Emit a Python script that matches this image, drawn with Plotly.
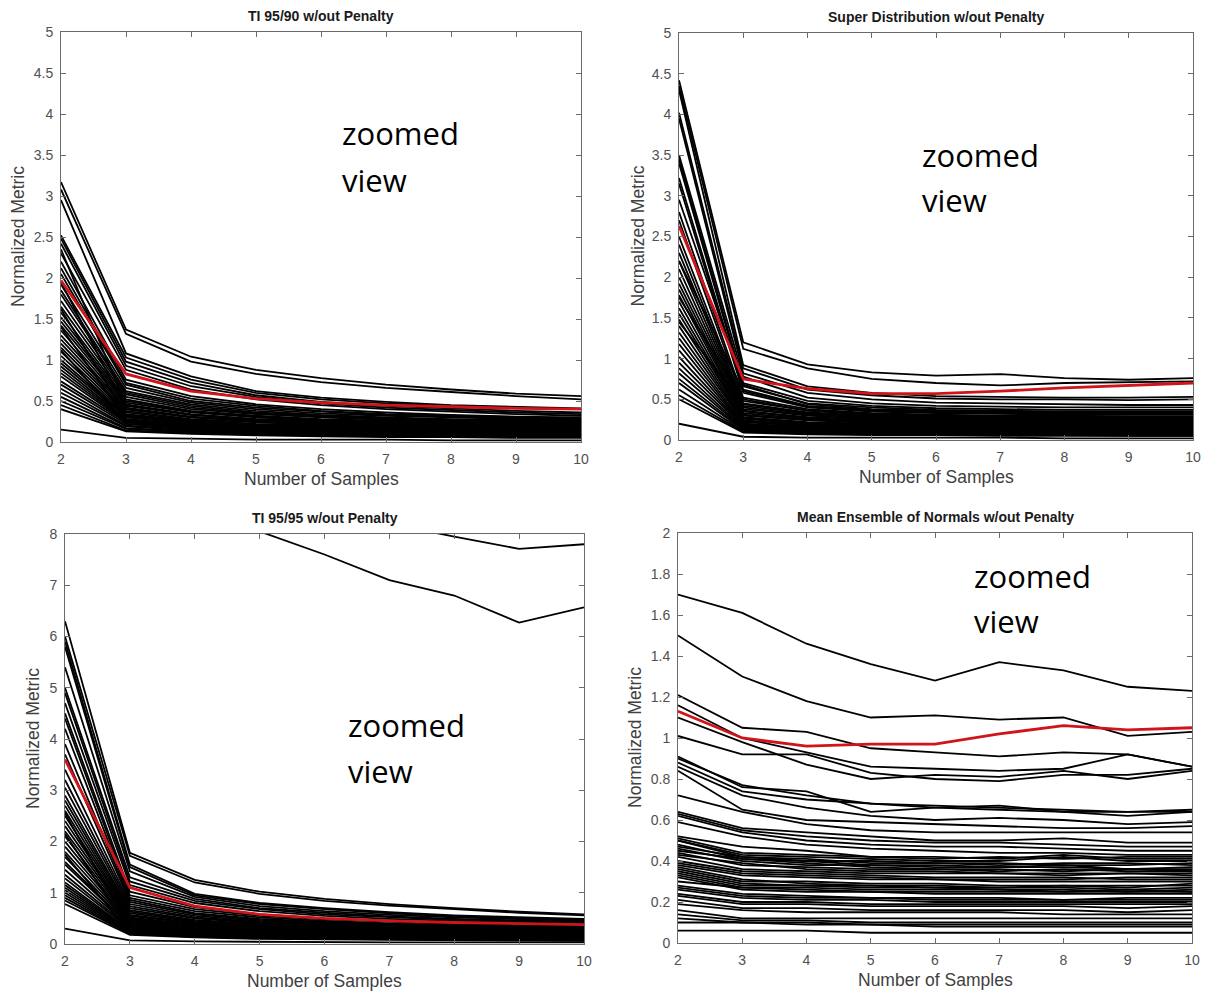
import plotly.graph_objects as go

# Sample counts on the x axis
SAMPLES = [2, 3, 4, 5, 6, 7, 8, 9, 10]

# ---- TI 95/90 w/out Penalty ----
TI9590_RED = [1.97, 0.83, 0.62, 0.53, 0.48, 0.45, 0.43, 0.41, 0.40]
TI9590_LINES = [
    [3.17, 1.37, 1.04, 0.88, 0.78, 0.70, 0.64, 0.59, 0.56],
    [3.08, 1.32, 0.98, 0.83, 0.73, 0.66, 0.61, 0.56, 0.52],
    [2.95, 1.08, 0.80, 0.62, 0.54, 0.49, 0.45, 0.43, 0.41],
    [2.52, 1.03, 0.76, 0.60, 0.52, 0.47, 0.44, 0.42, 0.40],
    [2.48, 0.98, 0.72, 0.57, 0.49, 0.44, 0.41, 0.38, 0.36],
    [2.42, 0.93, 0.68, 0.55, 0.47, 0.42, 0.39, 0.36, 0.34],
    [2.30, 0.88, 0.64, 0.52, 0.45, 0.40, 0.37, 0.34, 0.32],
    [2.20, 0.76, 0.56, 0.46, 0.40, 0.36, 0.33, 0.31, 0.30],
    [2.12, 0.72, 0.53, 0.44, 0.38, 0.34, 0.32, 0.30, 0.29],
    [2.05, 0.70, 0.50, 0.42, 0.37, 0.33, 0.31, 0.29, 0.28],
    [1.92, 0.66, 0.48, 0.40, 0.35, 0.32, 0.30, 0.28, 0.27],
    [1.85, 0.62, 0.46, 0.38, 0.33, 0.30, 0.28, 0.27, 0.26],
    [1.80, 0.60, 0.44, 0.36, 0.32, 0.29, 0.27, 0.26, 0.25],
    [1.72, 0.58, 0.42, 0.35, 0.31, 0.28, 0.26, 0.25, 0.24],
    [1.65, 0.55, 0.40, 0.34, 0.30, 0.27, 0.25, 0.24, 0.23],
    [1.58, 0.52, 0.38, 0.32, 0.28, 0.26, 0.24, 0.23, 0.22],
    [1.52, 0.50, 0.37, 0.31, 0.27, 0.25, 0.23, 0.22, 0.21],
    [1.47, 0.48, 0.36, 0.30, 0.26, 0.24, 0.22, 0.21, 0.20],
    [1.42, 0.46, 0.34, 0.28, 0.25, 0.23, 0.21, 0.20, 0.19],
    [1.36, 0.44, 0.33, 0.27, 0.24, 0.22, 0.20, 0.19, 0.18],
    [1.30, 0.42, 0.31, 0.26, 0.23, 0.21, 0.19, 0.18, 0.17],
    [1.25, 0.40, 0.30, 0.25, 0.22, 0.20, 0.18, 0.17, 0.16],
    [1.20, 0.38, 0.28, 0.24, 0.21, 0.19, 0.17, 0.16, 0.15],
    [1.15, 0.36, 0.27, 0.22, 0.20, 0.18, 0.16, 0.15, 0.14],
    [1.10, 0.34, 0.26, 0.21, 0.19, 0.17, 0.15, 0.14, 0.13],
    [1.05, 0.32, 0.24, 0.20, 0.18, 0.16, 0.15, 0.14, 0.13],
    [1.00, 0.31, 0.23, 0.19, 0.17, 0.15, 0.14, 0.13, 0.12],
    [0.96, 0.30, 0.22, 0.18, 0.16, 0.14, 0.13, 0.12, 0.11],
    [0.92, 0.28, 0.21, 0.17, 0.15, 0.14, 0.13, 0.12, 0.11],
    [0.88, 0.27, 0.20, 0.16, 0.14, 0.13, 0.12, 0.11, 0.10],
    [0.84, 0.26, 0.19, 0.16, 0.14, 0.12, 0.11, 0.10, 0.10],
    [0.80, 0.25, 0.18, 0.15, 0.13, 0.12, 0.11, 0.10, 0.09],
    [0.74, 0.24, 0.17, 0.14, 0.12, 0.11, 0.10, 0.09, 0.09],
    [0.70, 0.22, 0.16, 0.13, 0.12, 0.11, 0.10, 0.09, 0.08],
    [0.65, 0.20, 0.15, 0.12, 0.11, 0.10, 0.09, 0.08, 0.08],
    [0.60, 0.19, 0.14, 0.12, 0.10, 0.09, 0.08, 0.08, 0.07],
    [0.55, 0.17, 0.13, 0.11, 0.09, 0.08, 0.08, 0.07, 0.07],
    [0.50, 0.16, 0.12, 0.10, 0.09, 0.08, 0.07, 0.07, 0.06],
    [0.45, 0.14, 0.11, 0.09, 0.08, 0.07, 0.07, 0.06, 0.06],
    [0.40, 0.13, 0.10, 0.08, 0.07, 0.06, 0.06, 0.05, 0.05],
    [0.15, 0.05, 0.04, 0.03, 0.03, 0.03, 0.02, 0.02, 0.02],
    [2.35, 0.45, 0.33, 0.28, 0.25, 0.23, 0.22, 0.21, 0.20],
    [1.95, 0.40, 0.30, 0.26, 0.23, 0.21, 0.20, 0.19, 0.18],
    [1.62, 0.33, 0.25, 0.21, 0.19, 0.18, 0.17, 0.16, 0.15],
    [1.40, 0.28, 0.21, 0.18, 0.16, 0.15, 0.14, 0.13, 0.12],
    [1.12, 0.22, 0.17, 0.15, 0.13, 0.12, 0.11, 0.11, 0.10],
]

# ---- Super Distribution w/out Penalty ----
SUPER_RED = [2.63, 0.75, 0.63, 0.57, 0.57, 0.60, 0.64, 0.67, 0.70]
SUPER_LINES = [
    [4.42, 1.20, 0.93, 0.83, 0.79, 0.81, 0.76, 0.74, 0.76],
    [4.35, 1.12, 0.88, 0.75, 0.70, 0.67, 0.70, 0.71, 0.72],
    [4.30, 0.92, 0.66, 0.58, 0.54, 0.53, 0.52, 0.52, 0.53],
    [4.02, 0.88, 0.62, 0.55, 0.51, 0.50, 0.50, 0.49, 0.50],
    [3.95, 0.82, 0.58, 0.50, 0.46, 0.45, 0.44, 0.43, 0.43],
    [3.50, 0.78, 0.52, 0.45, 0.42, 0.41, 0.40, 0.40, 0.40],
    [3.45, 0.70, 0.48, 0.42, 0.39, 0.38, 0.37, 0.37, 0.37],
    [3.40, 0.66, 0.45, 0.40, 0.37, 0.36, 0.35, 0.35, 0.35],
    [3.22, 0.62, 0.42, 0.37, 0.35, 0.34, 0.33, 0.33, 0.33],
    [3.15, 0.58, 0.40, 0.35, 0.33, 0.32, 0.31, 0.31, 0.31],
    [2.80, 0.52, 0.38, 0.33, 0.31, 0.30, 0.30, 0.29, 0.29],
    [2.70, 0.48, 0.36, 0.31, 0.29, 0.28, 0.28, 0.28, 0.27],
    [2.50, 0.45, 0.34, 0.30, 0.28, 0.27, 0.27, 0.26, 0.26],
    [2.40, 0.42, 0.32, 0.28, 0.27, 0.26, 0.26, 0.25, 0.25],
    [2.30, 0.40, 0.31, 0.27, 0.26, 0.25, 0.25, 0.24, 0.24],
    [2.20, 0.38, 0.30, 0.26, 0.25, 0.24, 0.24, 0.23, 0.23],
    [2.10, 0.36, 0.28, 0.25, 0.24, 0.23, 0.23, 0.22, 0.22],
    [2.00, 0.35, 0.27, 0.24, 0.23, 0.22, 0.22, 0.21, 0.21],
    [1.92, 0.33, 0.26, 0.23, 0.22, 0.21, 0.21, 0.20, 0.20],
    [1.85, 0.31, 0.25, 0.22, 0.21, 0.20, 0.20, 0.19, 0.19],
    [1.78, 0.30, 0.24, 0.21, 0.20, 0.19, 0.19, 0.18, 0.18],
    [1.70, 0.28, 0.22, 0.20, 0.19, 0.18, 0.18, 0.17, 0.17],
    [1.62, 0.27, 0.21, 0.19, 0.18, 0.17, 0.17, 0.16, 0.16],
    [1.55, 0.26, 0.20, 0.18, 0.17, 0.16, 0.16, 0.15, 0.15],
    [1.48, 0.24, 0.19, 0.17, 0.16, 0.15, 0.15, 0.14, 0.14],
    [1.40, 0.23, 0.18, 0.16, 0.15, 0.14, 0.14, 0.14, 0.13],
    [1.32, 0.22, 0.17, 0.15, 0.14, 0.13, 0.13, 0.13, 0.12],
    [1.25, 0.20, 0.16, 0.14, 0.13, 0.12, 0.12, 0.12, 0.12],
    [1.18, 0.19, 0.15, 0.13, 0.12, 0.12, 0.11, 0.11, 0.11],
    [1.10, 0.18, 0.14, 0.12, 0.11, 0.11, 0.10, 0.10, 0.10],
    [1.02, 0.17, 0.13, 0.11, 0.10, 0.10, 0.10, 0.09, 0.09],
    [0.95, 0.16, 0.12, 0.10, 0.10, 0.09, 0.09, 0.09, 0.08],
    [0.88, 0.15, 0.11, 0.10, 0.09, 0.09, 0.08, 0.08, 0.08],
    [0.82, 0.14, 0.10, 0.09, 0.08, 0.08, 0.08, 0.07, 0.07],
    [0.75, 0.13, 0.10, 0.08, 0.08, 0.07, 0.07, 0.07, 0.07],
    [0.70, 0.12, 0.09, 0.08, 0.07, 0.07, 0.07, 0.06, 0.06],
    [0.62, 0.11, 0.08, 0.07, 0.07, 0.06, 0.06, 0.06, 0.06],
    [0.55, 0.10, 0.08, 0.07, 0.06, 0.06, 0.06, 0.05, 0.05],
    [0.50, 0.09, 0.07, 0.06, 0.06, 0.05, 0.05, 0.05, 0.05],
    [0.20, 0.04, 0.03, 0.03, 0.03, 0.03, 0.02, 0.02, 0.02],
    [2.95, 0.68, 0.44, 0.38, 0.36, 0.35, 0.34, 0.34, 0.34],
    [2.20, 0.60, 0.41, 0.36, 0.34, 0.33, 0.33, 0.32, 0.32],
    [1.75, 0.50, 0.36, 0.32, 0.30, 0.29, 0.29, 0.28, 0.28],
    [1.45, 0.44, 0.33, 0.29, 0.27, 0.26, 0.26, 0.26, 0.26],
]

# ---- TI 95/95 w/out Penalty ----
TI9595_RED = [3.60, 1.10, 0.74, 0.58, 0.50, 0.45, 0.42, 0.40, 0.38]
TI9595_LINES = [
    [30.0, 14.0, 11.0, 9.60, 8.80, 8.20, 7.95, 7.71, 7.80],
    [40.0, 13.0, 9.50, 8.05, 7.60, 7.10, 6.80, 6.27, 6.57],
    [6.30, 1.78, 1.25, 1.02, 0.88, 0.78, 0.70, 0.63, 0.58],
    [6.00, 1.72, 1.20, 0.98, 0.84, 0.75, 0.68, 0.61, 0.56],
    [5.90, 1.55, 0.98, 0.80, 0.70, 0.62, 0.56, 0.52, 0.49],
    [5.80, 1.50, 0.95, 0.78, 0.68, 0.60, 0.54, 0.50, 0.47],
    [5.40, 1.42, 0.92, 0.74, 0.64, 0.57, 0.52, 0.48, 0.45],
    [5.00, 1.30, 0.88, 0.70, 0.61, 0.54, 0.49, 0.46, 0.43],
    [4.90, 1.22, 0.84, 0.68, 0.58, 0.52, 0.47, 0.44, 0.41],
    [4.70, 1.15, 0.80, 0.64, 0.55, 0.49, 0.45, 0.42, 0.39],
    [4.50, 1.02, 0.72, 0.58, 0.50, 0.45, 0.41, 0.38, 0.36],
    [4.40, 0.95, 0.68, 0.55, 0.48, 0.43, 0.39, 0.36, 0.34],
    [4.20, 0.90, 0.64, 0.52, 0.45, 0.40, 0.37, 0.34, 0.32],
    [3.90, 0.86, 0.60, 0.49, 0.43, 0.38, 0.35, 0.33, 0.31],
    [3.70, 0.82, 0.58, 0.47, 0.41, 0.37, 0.34, 0.32, 0.30],
    [3.40, 0.78, 0.55, 0.45, 0.39, 0.35, 0.32, 0.30, 0.29],
    [3.20, 0.74, 0.52, 0.43, 0.37, 0.33, 0.31, 0.29, 0.27],
    [3.05, 0.70, 0.50, 0.41, 0.35, 0.32, 0.29, 0.27, 0.26],
    [2.90, 0.66, 0.47, 0.39, 0.34, 0.30, 0.28, 0.26, 0.25],
    [2.80, 0.63, 0.45, 0.37, 0.32, 0.29, 0.27, 0.25, 0.24],
    [2.70, 0.60, 0.43, 0.35, 0.31, 0.28, 0.26, 0.24, 0.23],
    [2.60, 0.57, 0.41, 0.34, 0.30, 0.27, 0.25, 0.23, 0.22],
    [2.50, 0.55, 0.40, 0.33, 0.29, 0.26, 0.24, 0.22, 0.21],
    [2.40, 0.52, 0.38, 0.31, 0.27, 0.25, 0.23, 0.21, 0.20],
    [2.30, 0.50, 0.36, 0.30, 0.26, 0.24, 0.22, 0.20, 0.19],
    [2.20, 0.48, 0.35, 0.29, 0.25, 0.23, 0.21, 0.19, 0.18],
    [2.10, 0.46, 0.33, 0.27, 0.24, 0.22, 0.20, 0.18, 0.17],
    [2.00, 0.44, 0.32, 0.26, 0.23, 0.21, 0.19, 0.17, 0.16],
    [1.90, 0.42, 0.30, 0.25, 0.22, 0.20, 0.18, 0.16, 0.15],
    [1.80, 0.40, 0.29, 0.24, 0.21, 0.19, 0.17, 0.15, 0.14],
    [1.70, 0.38, 0.28, 0.23, 0.20, 0.18, 0.16, 0.15, 0.14],
    [1.60, 0.36, 0.26, 0.22, 0.19, 0.17, 0.15, 0.14, 0.13],
    [1.55, 0.35, 0.25, 0.21, 0.18, 0.16, 0.15, 0.14, 0.13],
    [1.45, 0.33, 0.24, 0.20, 0.17, 0.15, 0.14, 0.13, 0.12],
    [1.35, 0.31, 0.22, 0.18, 0.16, 0.14, 0.13, 0.12, 0.11],
    [1.28, 0.29, 0.21, 0.17, 0.15, 0.13, 0.12, 0.11, 0.10],
    [1.20, 0.27, 0.20, 0.16, 0.14, 0.12, 0.11, 0.10, 0.10],
    [1.15, 0.26, 0.19, 0.15, 0.13, 0.12, 0.11, 0.10, 0.09],
    [1.10, 0.25, 0.18, 0.15, 0.13, 0.11, 0.10, 0.09, 0.09],
    [1.05, 0.24, 0.17, 0.14, 0.12, 0.11, 0.10, 0.09, 0.08],
    [1.00, 0.23, 0.16, 0.13, 0.11, 0.10, 0.09, 0.08, 0.08],
    [0.95, 0.22, 0.15, 0.12, 0.11, 0.10, 0.09, 0.08, 0.07],
    [0.90, 0.21, 0.15, 0.12, 0.10, 0.09, 0.08, 0.08, 0.07],
    [0.85, 0.20, 0.14, 0.11, 0.10, 0.09, 0.08, 0.07, 0.07],
    [0.78, 0.18, 0.13, 0.10, 0.09, 0.08, 0.07, 0.07, 0.06],
    [0.30, 0.07, 0.05, 0.04, 0.04, 0.03, 0.03, 0.03, 0.03],
    [2.55, 0.30, 0.24, 0.20, 0.18, 0.16, 0.15, 0.14, 0.13],
    [2.15, 0.26, 0.20, 0.17, 0.15, 0.14, 0.13, 0.12, 0.11],
    [1.75, 0.22, 0.17, 0.14, 0.13, 0.12, 0.11, 0.10, 0.10],
]

# ---- Mean Ensemble of Normals w/out Penalty ----
MEAN_RED = [1.13, 1.00, 0.96, 0.97, 0.97, 1.02, 1.06, 1.04, 1.05]
MEAN_LINES = [
    [1.70, 1.61, 1.46, 1.36, 1.28, 1.37, 1.33, 1.25, 1.23],
    [1.50, 1.30, 1.18, 1.10, 1.11, 1.09, 1.10, 1.01, 1.03],
    [1.21, 1.05, 1.03, 0.95, 0.93, 0.91, 0.93, 0.92, 0.86],
    [1.16, 1.00, 0.93, 0.86, 0.85, 0.84, 0.85, 0.92, 0.86],
    [1.10, 0.98, 0.87, 0.80, 0.82, 0.81, 0.84, 0.80, 0.84],
    [1.01, 0.92, 0.92, 0.83, 0.80, 0.79, 0.82, 0.82, 0.85],
    [0.91, 0.76, 0.74, 0.64, 0.66, 0.67, 0.64, 0.64, 0.65],
    [0.90, 0.77, 0.72, 0.68, 0.67, 0.66, 0.65, 0.64, 0.64],
    [0.88, 0.74, 0.70, 0.68, 0.66, 0.65, 0.64, 0.62, 0.64],
    [0.86, 0.72, 0.66, 0.62, 0.60, 0.61, 0.60, 0.58, 0.59],
    [0.84, 0.65, 0.60, 0.59, 0.58, 0.57, 0.56, 0.56, 0.57],
    [0.72, 0.64, 0.58, 0.55, 0.54, 0.54, 0.54, 0.54, 0.54],
    [0.64, 0.56, 0.54, 0.52, 0.50, 0.50, 0.51, 0.49, 0.49],
    [0.63, 0.55, 0.52, 0.50, 0.49, 0.49, 0.48, 0.47, 0.47],
    [0.62, 0.54, 0.50, 0.48, 0.47, 0.47, 0.46, 0.45, 0.45],
    [0.59, 0.52, 0.48, 0.46, 0.45, 0.44, 0.44, 0.43, 0.43],
    [0.52, 0.47, 0.45, 0.42, 0.41, 0.42, 0.41, 0.42, 0.42],
    [0.51, 0.44, 0.43, 0.42, 0.42, 0.41, 0.43, 0.41, 0.41],
    [0.50, 0.43, 0.42, 0.41, 0.40, 0.40, 0.42, 0.40, 0.40],
    [0.50, 0.42, 0.40, 0.38, 0.38, 0.37, 0.37, 0.36, 0.36],
    [0.48, 0.41, 0.40, 0.40, 0.39, 0.39, 0.38, 0.38, 0.39],
    [0.47, 0.42, 0.41, 0.39, 0.39, 0.38, 0.39, 0.39, 0.38],
    [0.46, 0.40, 0.38, 0.38, 0.37, 0.37, 0.38, 0.36, 0.37],
    [0.45, 0.41, 0.39, 0.37, 0.36, 0.36, 0.35, 0.36, 0.35],
    [0.44, 0.38, 0.37, 0.36, 0.36, 0.35, 0.36, 0.35, 0.35],
    [0.43, 0.39, 0.36, 0.35, 0.35, 0.34, 0.34, 0.34, 0.34],
    [0.42, 0.36, 0.35, 0.34, 0.34, 0.34, 0.33, 0.34, 0.33],
    [0.40, 0.35, 0.34, 0.33, 0.32, 0.32, 0.32, 0.31, 0.31],
    [0.39, 0.34, 0.33, 0.32, 0.31, 0.31, 0.31, 0.32, 0.32],
    [0.38, 0.33, 0.32, 0.31, 0.31, 0.30, 0.30, 0.30, 0.30],
    [0.37, 0.31, 0.29, 0.28, 0.27, 0.27, 0.27, 0.26, 0.27],
    [0.36, 0.30, 0.30, 0.29, 0.29, 0.28, 0.28, 0.28, 0.28],
    [0.35, 0.29, 0.28, 0.28, 0.28, 0.27, 0.28, 0.27, 0.29],
    [0.34, 0.28, 0.28, 0.27, 0.27, 0.26, 0.26, 0.25, 0.26],
    [0.33, 0.27, 0.27, 0.26, 0.26, 0.26, 0.25, 0.26, 0.25],
    [0.32, 0.26, 0.25, 0.25, 0.24, 0.24, 0.24, 0.24, 0.24],
    [0.30, 0.27, 0.26, 0.25, 0.25, 0.25, 0.25, 0.25, 0.25],
    [0.28, 0.24, 0.23, 0.22, 0.22, 0.22, 0.21, 0.22, 0.22],
    [0.27, 0.23, 0.22, 0.22, 0.21, 0.21, 0.21, 0.21, 0.21],
    [0.26, 0.22, 0.21, 0.21, 0.20, 0.20, 0.20, 0.20, 0.20],
    [0.24, 0.20, 0.20, 0.19, 0.19, 0.19, 0.19, 0.19, 0.19],
    [0.23, 0.19, 0.19, 0.18, 0.18, 0.18, 0.18, 0.17, 0.18],
    [0.21, 0.17, 0.17, 0.16, 0.16, 0.16, 0.16, 0.15, 0.16],
    [0.19, 0.16, 0.15, 0.15, 0.15, 0.15, 0.14, 0.14, 0.14],
    [0.16, 0.12, 0.12, 0.12, 0.12, 0.12, 0.12, 0.12, 0.12],
    [0.14, 0.11, 0.11, 0.10, 0.10, 0.10, 0.10, 0.10, 0.10],
    [0.12, 0.10, 0.10, 0.09, 0.09, 0.09, 0.09, 0.09, 0.09],
    [0.10, 0.10, 0.09, 0.09, 0.08, 0.08, 0.08, 0.08, 0.08],
    [0.06, 0.06, 0.06, 0.05, 0.05, 0.05, 0.05, 0.05, 0.05],
]

PANEL_TITLES = [
    "TI 95/90 w/out Penalty",
    "Super Distribution w/out Penalty",
    "TI 95/95 w/out Penalty",
    "Mean Ensemble of Normals w/out Penalty",
]
Y_RANGES = [[0, 5], [0, 5], [0, 8], [0, 2]]
Y_STEPS = [0.5, 0.5, 1, 0.2]

W, H = 1206, 993
# plot boxes in pixels: left, right, top, bottom
BOXES = [
    (61, 581, 32, 442),
    (679, 1193, 33, 440),
    (65, 584, 534, 944),
    (678, 1192, 533, 943),
]

AXIS_GREY = "#6a6a6a"
SANS = "Liberation Sans, Arial, sans-serif"
TICK_FONT = dict(family=SANS, size=14, color="#505050")
LABEL_FONT = dict(family=SANS, size=17.5, color="#404040")

fig = go.Figure()

panels = [
    (TI9590_LINES, TI9590_RED),
    (SUPER_LINES, SUPER_RED),
    (TI9595_LINES, TI9595_RED),
    (MEAN_LINES, MEAN_RED),
]

layout = dict(
    template="none",
    width=W, height=H,
    margin=dict(l=0, r=0, t=0, b=0, pad=0, autoexpand=False),
    paper_bgcolor="white", plot_bgcolor="white",
    showlegend=False,
)
annotations = []

for i, ((lines, red), box) in enumerate(zip(panels, BOXES)):
    n = i + 1
    xa = "x" if n == 1 else f"x{n}"
    ya = "y" if n == 1 else f"y{n}"
    for ys in lines:
        fig.add_trace(go.Scatter(
            x=SAMPLES, y=ys, mode="lines", xaxis=xa, yaxis=ya,
            line=dict(color="black", width=1.8), hoverinfo="skip",
        ))
    fig.add_trace(go.Scatter(
        x=SAMPLES, y=red, mode="lines", xaxis=xa, yaxis=ya,
        line=dict(color="#d0141a", width=2.8), hoverinfo="skip",
    ))

    left, right, top, bottom = box
    xdom = [left / W, right / W]
    ydom = [1 - bottom / H, 1 - top / H]
    common = dict(
        showline=True, linecolor=AXIS_GREY, linewidth=1, mirror="ticks",
        ticks="inside", ticklen=5, tickcolor=AXIS_GREY, tickwidth=1,
        showgrid=False, zeroline=False, tickfont=TICK_FONT,
        automargin=False, ticklabelstandoff=4,
    )
    layout[f"xaxis{'' if n == 1 else n}"] = dict(
        domain=xdom, range=[2, 10], dtick=1, tick0=2,
        anchor=ya, **common,
    )
    layout[f"yaxis{'' if n == 1 else n}"] = dict(
        domain=ydom, range=Y_RANGES[i], dtick=Y_STEPS[i], tick0=0,
        anchor=xa, **common,
    )

    cx = (left + right) / 2
    annotations.append(dict(
        text=f"<b>{PANEL_TITLES[i]}</b>", xref="paper", yref="paper",
        x=cx / W, y=1 - (top - 16) / H, showarrow=False,
        font=dict(family=SANS, size=14, color="#1a1a1a"),
        xanchor="center", yanchor="middle",
    ))
    annotations.append(dict(
        text="Number of Samples", xref="paper", yref="paper",
        x=cx / W, y=1 - (bottom + 37) / H, showarrow=False,
        font=LABEL_FONT, xanchor="center", yanchor="middle",
    ))

YLABEL_X = [18, 637, 33, 635]
for i, box in enumerate(BOXES):
    left, right, top, bottom = box
    annotations.append(dict(
        text="Normalized Metric", xref="paper", yref="paper",
        x=YLABEL_X[i] / W, y=1 - ((top + bottom) / 2) / H, showarrow=False,
        font=LABEL_FONT, textangle=-90, xanchor="center", yanchor="middle",
    ))

# "zoomed view" notes inside each panel
NOTE_POS = [(340, 135, 182), (920, 157, 202), (346, 727, 773), (972, 578, 623)]
for x, y1, y2 in NOTE_POS:
    for word, yy in (("zoomed", y1), ("view", y2)):
        annotations.append(dict(
            text=word, xref="paper", yref="paper",
            x=x / W, y=1 - (yy - 2) / H, showarrow=False,
            font=dict(family="Open Sans, sans-serif", size=31, color="black"),
            xanchor="left", yanchor="middle",
        ))

layout["annotations"] = annotations
fig.update_layout(**layout)
fig.write_html("out.html")
